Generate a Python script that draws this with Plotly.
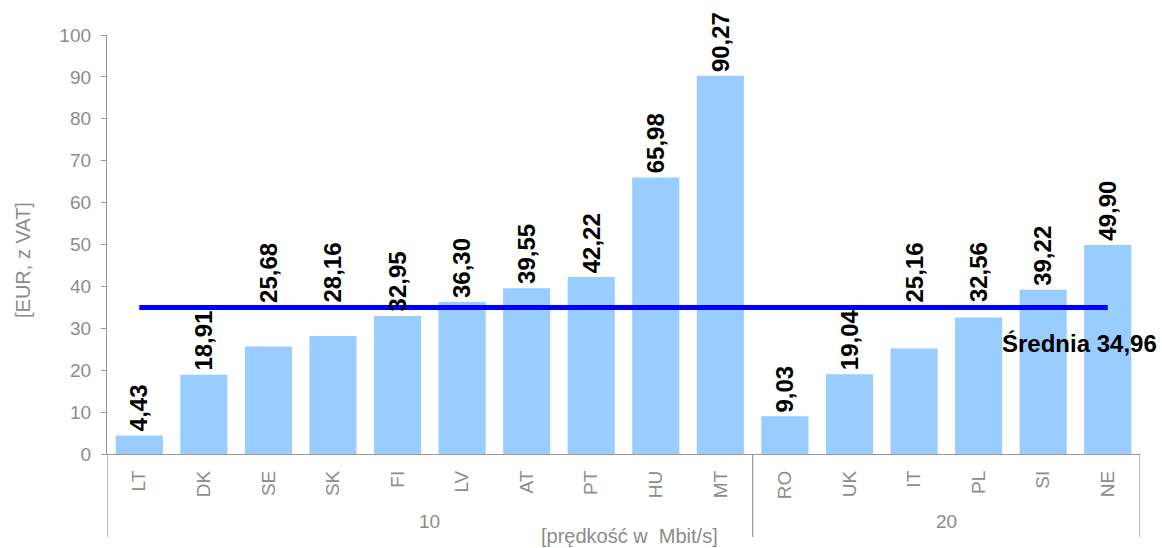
import plotly.graph_objects as go

categories = ["LT", "DK", "SE", "SK", "FI", "LV", "AT", "PT", "HU", "MT",
              "RO", "UK", "IT", "PL", "SI", "NE"]
groups = ["10"] * 10 + ["20"] * 6
values = [4.43, 18.91, 25.68, 28.16, 32.95, 36.30, 39.55, 42.22, 65.98, 90.27,
          9.03, 19.04, 25.16, 32.56, 39.22, 49.90]
# labels that sit above the average line instead of on the bar
lifted = ["SE", "SK", "IT", "PL"]
y_ticks = list(range(0, 101, 10))

mean_value = round(sum(values) / len(values), 2)

FONT = "Liberation Sans, Arial, sans-serif"
GRAY = "#8c8c8c"
AXIS = "#999999"

def fmt(v):
    return f"{v:.2f}".replace(".", ",")

xs = list(range(len(categories)))

fig = go.Figure()
fig.add_trace(go.Bar(
    x=xs, y=values, marker=dict(color="#99CCFF", line=dict(width=0)),
    width=0.73, hoverinfo="skip", showlegend=False,
))
fig.add_trace(go.Scatter(
    x=[xs[0], xs[-1]], y=[mean_value, mean_value], mode="lines",
    line=dict(color="#0000FF", width=5), hoverinfo="skip", showlegend=False,
))

annotations = []
for i, (c, v) in enumerate(zip(categories, values)):
    base = mean_value if c in lifted else v
    shift = 3 if c in lifted else 2
    annotations.append(dict(
        x=i, y=base, xref="x", yref="y", text=fmt(v), showarrow=False,
        textangle=-90, xanchor="center", yanchor="bottom", yshift=shift,
        font=dict(family=FONT, size=24, color="black", weight="bold"),
    ))

annotations.append(dict(
    x=14.56, y=26.3, xref="x", yref="y", text="Średnia " + fmt(mean_value),
    showarrow=False, xanchor="center", yanchor="middle",
    font=dict(family=FONT, size=24, color="black", weight="bold"),
))

# group labels
group_names = []
for g in groups:
    if g not in group_names:
        group_names.append(g)
for g in group_names:
    idx = [i for i, gg in enumerate(groups) if gg == g]
    annotations.append(dict(
        x=(idx[0] + idx[-1]) / 2, y=-0.162, xref="x", yref="paper", text=g,
        showarrow=False, xanchor="center", yanchor="middle",
        font=dict(family=FONT, size=19, color=GRAY),
    ))

annotations.append(dict(
    x=0.5055, y=-0.196, xref="paper", yref="paper",
    text="[prędkość w  Mbit/s]", showarrow=False, xanchor="center",
    yanchor="middle", font=dict(family=FONT, size=20, color=GRAY),
))
annotations.append(dict(
    x=-0.0813, y=0.463, xref="paper", yref="paper", text="[EUR, z VAT]",
    showarrow=False, textangle=-90, xanchor="center", yanchor="middle",
    font=dict(family=FONT, size=20, color=GRAY),
))

# group dividers
shapes = []
bounds = [-0.5]
for i in range(1, len(groups)):
    if groups[i] != groups[i - 1]:
        bounds.append(i - 0.5)
bounds.append(len(groups) - 0.5)
for b in bounds:
    shapes.append(dict(type="line", xref="x", yref="paper", x0=b, x1=b,
                       y0=0, y1=-0.198, line=dict(color=AXIS, width=1.3)))

fig.update_layout(
    width=1162, height=548,
    margin=dict(l=107, r=22, t=35, b=94),
    paper_bgcolor="white", plot_bgcolor="white",
    bargap=0.27,
    annotations=annotations, shapes=shapes,
    font=dict(family=FONT, color=GRAY),
)
fig.update_xaxes(
    range=[-0.5, len(categories) - 0.5], tickmode="array", tickvals=xs,
    ticktext=categories, tickangle=-90, ticks="", showgrid=False,
    showline=True, linecolor=AXIS, linewidth=1.3, zeroline=False,
    tickfont=dict(family=FONT, size=19, color=GRAY), ticklabelstandoff=8,
)
fig.update_yaxes(
    range=[0, 100], tickmode="array", tickvals=y_ticks, ticks="outside",
    ticklen=5, tickcolor=AXIS, showgrid=False, showline=True,
    linecolor=AXIS, linewidth=1.3, zeroline=False,
    tickfont=dict(family=FONT, size=19, color=GRAY), ticklabelstandoff=6,
)

fig.write_html("out.html")
